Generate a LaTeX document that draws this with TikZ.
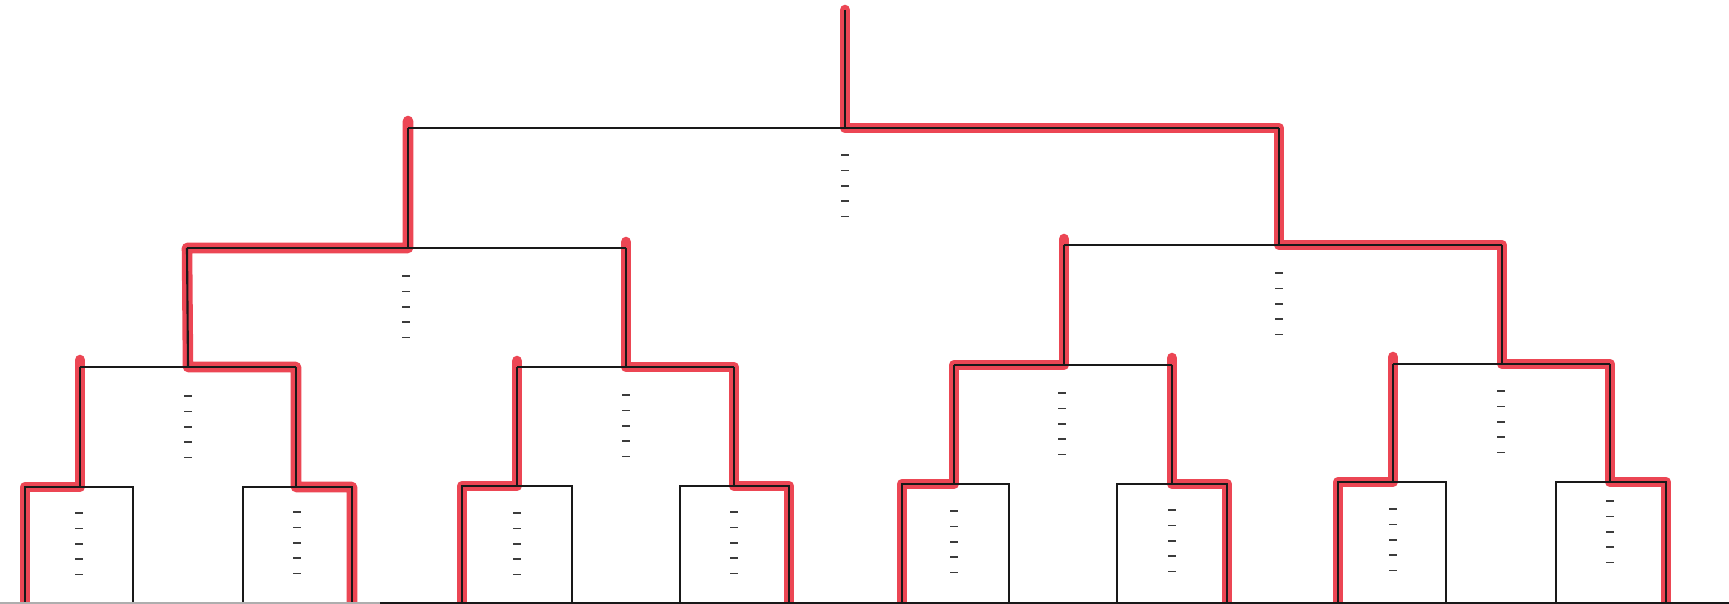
\documentclass[tikz,border=0pt]{standalone}
\definecolor{marker}{RGB}{236,70,84}
\definecolor{ink}{RGB}{25,25,25}
\tikzset{
  bracketline/.style={draw=ink,line width=0.6pt},
  hilite/.style={draw=marker,line width=3pt,line cap=round,line join=round},
  dashmark/.style={draw=ink!85,line width=0.45pt},
  edgeline/.style={draw=ink,line width=0.4pt}
}
\begin{document}
\begin{tikzpicture}[x=0.01cm,y=-0.01cm]
\useasboundingbox (0,0) rectangle (1729,604);
\fill[white] (0,0) rectangle (1729,604);
% ---- coordinates ----
\coordinate (root) at (845,10);
\coordinate (f) at (845,128);
\coordinate (fL) at (408,128);
\coordinate (fR) at (1279,128);
\coordinate (sL) at (408,248);
\coordinate (sLa) at (187,248);
\coordinate (sLb) at (626,248);
\coordinate (sR) at (1279,245);
\coordinate (sRa) at (1064,245);
\coordinate (sRb) at (1502,245);
\coordinate (q1) at (188,367); \coordinate (q1a) at (80,367);   \coordinate (q1b) at (296,367);
\coordinate (q2) at (626,367); \coordinate (q2a) at (517,367);  \coordinate (q2b) at (734,367);
\coordinate (q3) at (1064,365);\coordinate (q3a) at (954,365);  \coordinate (q3b) at (1172,365);
\coordinate (q4) at (1502,364);\coordinate (q4a) at (1393,364); \coordinate (q4b) at (1610,364);
\coordinate (b1) at (80,487);  \coordinate (b1a) at (25,487);   \coordinate (b1b) at (133,487);
\coordinate (b2) at (296,487); \coordinate (b2a) at (243,487);  \coordinate (b2b) at (352,487);
\coordinate (b3) at (517,486); \coordinate (b3a) at (462,486);  \coordinate (b3b) at (572,486);
\coordinate (b4) at (734,486); \coordinate (b4a) at (680,486);  \coordinate (b4b) at (789,486);
\coordinate (b5) at (954,484); \coordinate (b5a) at (902,484);  \coordinate (b5b) at (1009,484);
\coordinate (b6) at (1172,484);\coordinate (b6a) at (1117,484); \coordinate (b6b) at (1227,484);
\coordinate (b7) at (1393,482);\coordinate (b7a) at (1338,482); \coordinate (b7b) at (1446,482);
\coordinate (b8) at (1610,482);\coordinate (b8a) at (1556,482); \coordinate (b8b) at (1666,482);
% ---- red highlight (under the ink) ----
\draw[hilite] (root) -- (f) -- (fR) -- (sR) -- (sRb) -- (q4) -- (q4b) -- (b8) -- (b8b) -- (b8b |- 0,604);
\draw[hilite] (1393,357) -- (q4a) -- (b7) -- (b7a) -- (b7a |- 0,604);
\draw[hilite] (1064,239) -- (sRa) -- (q3) -- (q3a) -- (b5) -- (b5a) -- (b5a |- 0,604);
\draw[hilite] (1172,358) -- (q3b) -- (b6) -- (b6b) -- (b6b |- 0,604);
\draw[hilite] (408,121) -- (sL) -- (sLa) -- (q1) -- (q1b) -- (b2) -- (b2b) -- (b2b |- 0,604);
\draw[hilite] (80,360) -- (q1a) -- (b1) -- (b1a) -- (b1a |- 0,604);
\draw[hilite] (626,242) -- (q2) -- (q2b) -- (b4) -- (b4b) -- (b4b |- 0,604);
\draw[hilite] (517,361) -- (q2a) -- (b3) -- (b3a) -- (b3a |- 0,604);
% ---- black bracket ----
\draw[bracketline] (root) -- (f);
\draw[bracketline] (fL) -- (fR);
\draw[bracketline] (fL) -- (sL);
\draw[bracketline] (fR) -- (sR);
\draw[bracketline] (sLa) -- (sLb);
\draw[bracketline] (sRa) -- (sRb);
\draw[bracketline] (sLa) -- (q1);
\draw[bracketline] (sLb) -- (q2);
\draw[bracketline] (sRa) -- (q3);
\draw[bracketline] (sRb) -- (q4);
\foreach \q in {1,2,3,4} {
  \draw[bracketline] (q\q a) -- (q\q b);
}
\draw[bracketline] (q1a) -- (b1); \draw[bracketline] (q1b) -- (b2);
\draw[bracketline] (q2a) -- (b3); \draw[bracketline] (q2b) -- (b4);
\draw[bracketline] (q3a) -- (b5); \draw[bracketline] (q3b) -- (b6);
\draw[bracketline] (q4a) -- (b7); \draw[bracketline] (q4b) -- (b8);
\foreach \b in {1,...,8} {
  \draw[bracketline] (b\b a |- 0,604) -- (b\b a) -- (b\b b) -- (b\b b |- 0,604);
}
% bottom edge line
\draw[edgeline,draw=ink!35] (0,603) -- (380,603);
\draw[edgeline] (380,603) -- (1729,603);
% ---- placeholder dashes ----
\foreach \x/\y in {845/155, 406/276, 1279/273, 188/396, 626/395, 1062/393, 1501/391,
                   79/513, 297/512, 517/513, 734/512, 954/511, 1172/510, 1393/509, 1610/501} {
  \foreach \k in {0,...,4} {
    \draw[dashmark] (\x-4,\y+15.4*\k) -- ++(8,0);
  }
}
\end{tikzpicture}
\end{document}
